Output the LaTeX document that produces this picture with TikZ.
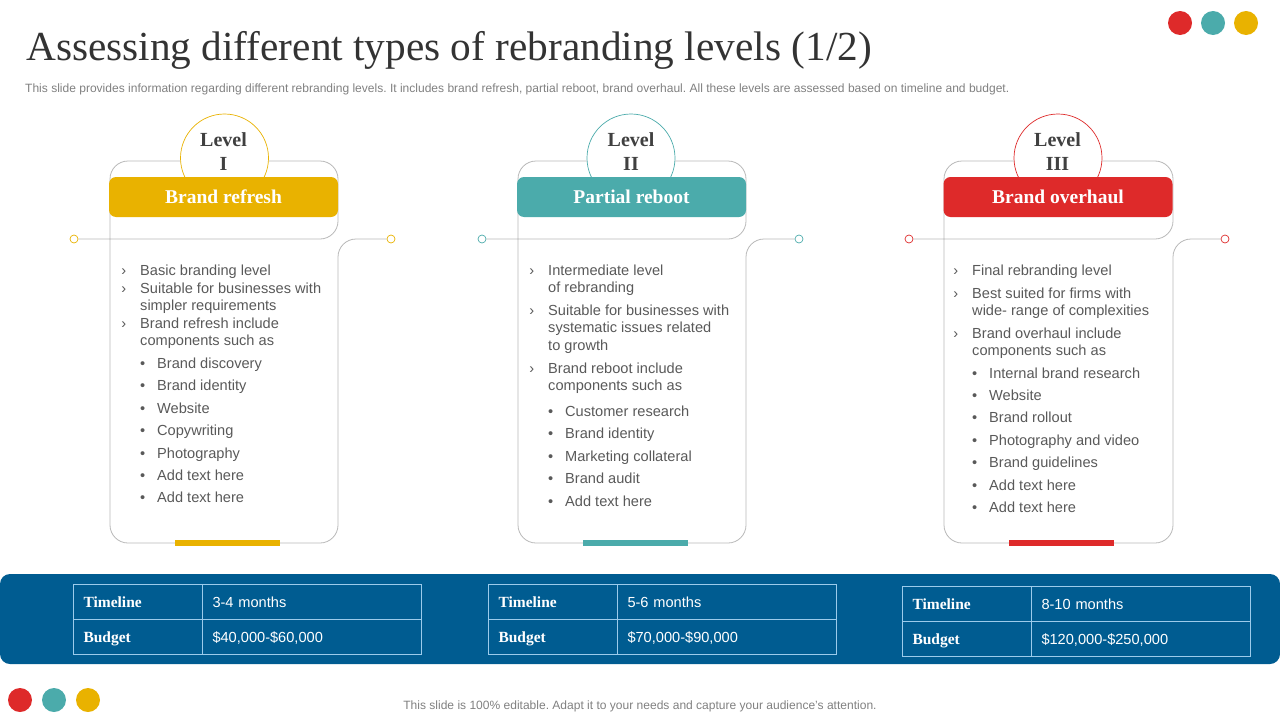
\documentclass[tikz,border=0pt]{standalone}
\usepackage{fontspec}
\setmainfont{Liberation Sans}
\newfontfamily\headfont{Liberation Serif}
\usetikzlibrary{positioning}
\frenchspacing

\definecolor{brandyellow}{HTML}{E9B200}
\definecolor{brandteal}{HTML}{4BABAB}
\definecolor{brandred}{HTML}{DE2A2A}
\definecolor{brandnavy}{HTML}{005C91}
\definecolor{celline}{HTML}{9CCBEB}
\definecolor{bodygray}{HTML}{595959}

\newcommand{\chevmark}{\strut\makebox[0pt][r]{›\hspace{14pt}}}
\newcommand{\dotmark}{\strut\makebox[0pt][r]{•\hspace{12pt}}}

\tikzset{
  spot/.style={circle, fill=#1, minimum size=24pt, inner sep=0pt},
  pin/.style={circle, draw=#1, fill=white, line width=.7pt, minimum size=8pt, inner sep=0pt},
  outline/.style={draw=black!28, line width=.8pt, rounded corners=18pt},
  levelring/.style={circle, draw=#1, fill=white, line width=.7pt, minimum size=88pt, inner sep=0pt},
  leveltext/.style={font=\headfont\fontsize{20}{23.5}\selectfont\bfseries, text=black!75, align=center},
  headbar/.style={fill=#1, rounded corners=7pt, minimum width=229pt, minimum height=40pt, inner sep=0pt,
    text=white, font=\headfont\fontsize{19.5}{24}\selectfont\bfseries},
  footbar/.style={fill=#1, minimum width=105pt, minimum height=6pt, inner sep=0pt},
  entry/.style={anchor=north west, inner sep=0pt, align=left, text=bodygray,
    font=\fontsize{14.6}{17.5}\selectfont},
  lcell/.style={draw=celline, line width=1pt, outer sep=0pt, minimum height=35pt, text width=109pt,
    text height=13pt, text depth=2pt, inner xsep=10pt, inner ysep=0pt, align=left, text=white,
    font=\headfont\fontsize{15.5}{18}\selectfont\bfseries},
  rcell/.style={draw=celline, line width=1pt, outer sep=0pt, minimum height=35pt, text width=199pt,
    text height=13pt, text depth=2pt, inner xsep=10pt, inner ysep=0pt, align=left, text=white,
    font=\fontsize{14.6}{18}\selectfont}
}

\begin{document}
\begin{tikzpicture}[x=1pt,y=-1pt,node distance=0pt]
        \useasboundingbox (0,0) rectangle (1280,720);

        \node[anchor=base west, inner sep=0pt, font=\headfont\fontsize{41.3}{48}\selectfont, text=black!80] (title) at (26,60)
          {Assessing different types of rebranding levels (1/2)};
        \node[anchor=base west, inner sep=0pt, font=\fontsize{12.03}{14}\selectfont, text=black!50] (subtitle) at (25,92)
          {This slide provides information regarding different rebranding levels. It includes brand refresh, partial reboot, brand overhaul. All these levels are assessed based on timeline and budget.};

        \node[spot=brandred] (top1) at (1180,23) {};
        \node[spot=brandteal] (top2) at (1213,23) {};
        \node[spot=brandyellow] (top3) at (1246,23) {};

        % first card
        \node[pin=brandyellow] (pinl1) at (74,239) {};
        \node[pin=brandyellow] (pinr1) at (391,239) {};
        \draw[outline] (pinl1) -- (338,239) -- (338,161) -- (110,161) -- (110,543) -- (338,543) -- (338,239) -- (pinr1);
        \node[levelring=brandyellow] (ring1) at (224.5,158) {};
        \node[leveltext] (lvl1) at (223.5,151.5) {Level\\I};
        \node[headbar=brandyellow] (head1) at (223.5,197) {Brand refresh};
        \node[footbar=brandyellow] (foot1) at (227.5,543) {};

        \node[entry] at (140,262.7) {\chevmark Basic branding level};
        \node[entry] at (140,280.7) {\chevmark Suitable for businesses with\\\strut simpler requirements};
        \node[entry] at (140,315.7) {\chevmark Brand refresh include\\\strut components such as};
        \node[entry] at (157,355.7) {\dotmark Brand discovery};
        \node[entry] at (157,377.7) {\dotmark Brand identity};
        \node[entry] at (157,400.7) {\dotmark Website};
        \node[entry] at (157,422.7) {\dotmark Copywriting};
        \node[entry] at (157,445.7) {\dotmark Photography};
        \node[entry] at (157,467.7) {\dotmark Add text here};
        \node[entry] at (157,489.7) {\dotmark Add text here};

        % second card
        \node[pin=brandteal] (pinl2) at (482,239) {};
        \node[pin=brandteal] (pinr2) at (799,239) {};
        \draw[outline] (pinl2) -- (746,239) -- (746,161) -- (518,161) -- (518,543) -- (746,543) -- (746,239) -- (pinr2);
        \node[levelring=brandteal] (ring2) at (631,158) {};
        \node[leveltext] (lvl2) at (631,151.5) {Level\\II};
        \node[headbar=brandteal] (head2) at (631.5,197) {Partial reboot};
        \node[footbar=brandteal] (foot2) at (635,543) {};

        \node[entry] at (548,262.7) {\chevmark Intermediate level\\\strut of rebranding};
        \node[entry] at (548,302.7) {\chevmark Suitable for businesses with\\\strut systematic issues related\\\strut to growth};
        \node[entry] at (548,360.7) {\chevmark Brand reboot include\\\strut components such as};
        \node[entry] at (565,403.7) {\dotmark Customer research};
        \node[entry] at (565,425.7) {\dotmark Brand identity};
        \node[entry] at (565,448.7) {\dotmark Marketing collateral};
        \node[entry] at (565,470.7) {\dotmark Brand audit};
        \node[entry] at (565,493.7) {\dotmark Add text here};

        % third card
        \node[pin=brandred] (pinl3) at (909,239) {};
        \node[pin=brandred] (pinr3) at (1225,239) {};
        \draw[outline] (pinl3) -- (1173,239) -- (1173,161) -- (944,161) -- (944,543) -- (1173,543) -- (1173,239) -- (pinr3);
        \node[levelring=brandred] (ring3) at (1058,158) {};
        \node[leveltext] (lvl3) at (1057.5,151.5) {Level\\III};
        \node[headbar=brandred] (head3) at (1058,197) {Brand overhaul};
        \node[footbar=brandred] (foot3) at (1061.5,543) {};

        \node[entry] at (972,262.7) {\chevmark Final rebranding level};
        \node[entry] at (972,285.7) {\chevmark Best suited for firms with\\\strut wide- range of complexities};
        \node[entry] at (972,325.7) {\chevmark Brand overhaul include\\\strut components such as};
        \node[entry] at (989,365.7) {\dotmark Internal brand research};
        \node[entry] at (989,387.7) {\dotmark Website};
        \node[entry] at (989,409.7) {\dotmark Brand rollout};
        \node[entry] at (989,432.7) {\dotmark Photography and video};
        \node[entry] at (989,454.7) {\dotmark Brand guidelines};
        \node[entry] at (989,477.7) {\dotmark Add text here};
        \node[entry] at (989,499.7) {\dotmark Add text here};

        % blue band and tables
        \node[fill=brandnavy, rounded corners=10pt, minimum width=1280pt, minimum height=90pt, inner sep=0pt] (band) at (640,619) {};

        \node[lcell, anchor=north west] (time1) at (73.5,584.5) {Timeline};
        \node[rcell, right=of time1] (span1) {3-4 months};
        \node[lcell, below=of time1] (bud1) {Budget};
        \node[rcell, right=of bud1] (cost1) {\$40,000-\$60,000};

        \node[lcell, anchor=north west] (time2) at (488.5,584.5) {Timeline};
        \node[rcell, right=of time2] (span2) {5-6 months};
        \node[lcell, below=of time2] (bud2) {Budget};
        \node[rcell, right=of bud2] (cost2) {\$70,000-\$90,000};

        \node[lcell, anchor=north west] (time3) at (902.5,586.5) {Timeline};
        \node[rcell, right=of time3] (span3) {8-10 months};
        \node[lcell, below=of time3] (bud3) {Budget};
        \node[rcell, right=of bud3] (cost3) {\$120,000-\$250,000};

        \node[spot=brandred] (low1) at (20,700) {};
        \node[spot=brandteal] (low2) at (54,700) {};
        \node[spot=brandyellow] (low3) at (88,700) {};
        \node[anchor=base, inner sep=0pt, font=\fontsize{12.03}{14}\selectfont, text=black!50] (note) at (640,709)
          {This slide is 100\% editable. Adapt it to your needs and capture your audience's attention.};
      \end{tikzpicture}
\end{document}
